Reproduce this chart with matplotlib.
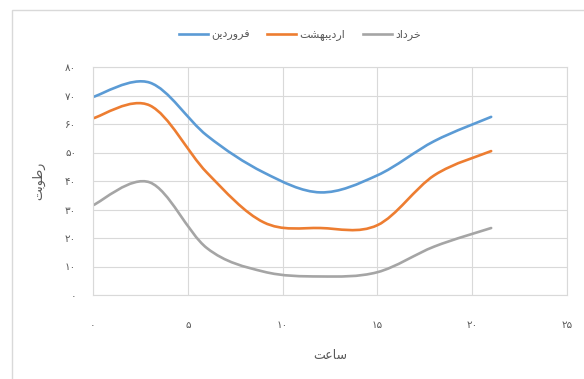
import matplotlib
matplotlib.use("Agg")
import matplotlib.pyplot as plt
from matplotlib.path import Path
from matplotlib.patches import PathPatch, Rectangle
from matplotlib.lines import Line2D

# humidity readings through the day
hours = [0, 3, 6, 9, 12, 15, 18, 21]
farvardin = [69.5, 74.5, 56, 43, 36, 42, 54, 62.5]
ordibehesht = [62, 66.5, 43, 25.5, 23.5, 24.5, 42, 50.5]
khordad = [31.5, 39.5, 16.5, 8.2, 6.5, 8, 17, 23.5]

series_names = ["فروردین", "اردیبهشت", "خرداد"]
x_title = "ساعت"
y_title = "رطوبت"
x_ticks = [0, 5, 10, 15, 20, 25]
y_ticks = [0, 10, 20, 30, 40, 50, 60, 70, 80]

colors = ["#5B9BD5", "#ED7D31", "#A5A5A5"]
text_color = "#595959"
grid_color = "#D9D9D9"

# isolated, final, initial, medial presentation forms
FORMS = {
    "ا": ("\ufe8d", "\ufe8e", None, None),
    "ب": ("\ufe8f", "\ufe90", "\ufe91", "\ufe92"),
    "ت": ("\ufe95", "\ufe96", "\ufe97", "\ufe98"),
    "خ": ("\ufea5", "\ufea6", "\ufea7", "\ufea8"),
    "د": ("\ufea9", "\ufeaa", None, None),
    "ر": ("\ufead", "\ufeae", None, None),
    "س": ("\ufeb1", "\ufeb2", "\ufeb3", "\ufeb4"),
    "ش": ("\ufeb5", "\ufeb6", "\ufeb7", "\ufeb8"),
    "ط": ("\ufec1", "\ufec2", "\ufec3", "\ufec4"),
    "ع": ("\ufec9", "\ufeca", "\ufecb", "\ufecc"),
    "ف": ("\ufed1", "\ufed2", "\ufed3", "\ufed4"),
    "ن": ("\ufee5", "\ufee6", "\ufee7", "\ufee8"),
    "ه": ("\ufee9", "\ufeea", "\ufeeb", "\ufeec"),
    "و": ("\ufeed", "\ufeee", None, None),
    "ی": ("\ufeef", "\ufef0", "\ufef3", "\ufef4"),
}


def shape(word):
    """Join Persian letters and put them in visual (right-to-left) order."""
    out = []
    for i, c in enumerate(word):
        if c not in FORMS:
            out.append(c)
            continue
        iso, fin, ini, med = FORMS[c]
        prev = word[i - 1] if i > 0 else None
        nxt = word[i + 1] if i + 1 < len(word) else None
        join_prev = prev in FORMS and FORMS[prev][2] is not None
        join_next = nxt in FORMS and ini is not None
        if join_prev and join_next:
            out.append(med)
        elif join_prev:
            out.append(fin)
        elif join_next:
            out.append(ini)
        else:
            out.append(iso)
    return "".join(reversed(out))


def fa_digits(n):
    return "".join("۰۱۲۳۴۵۶۷۸۹"[int(d)] for d in str(n))


def smooth_path(xs, ys):
    # cubic bezier through the points, catmull-rom style tangents
    pts = list(zip(xs, ys))
    n = len(pts)
    tang = []
    for i in range(n):
        a = pts[max(i - 1, 0)]
        b = pts[min(i + 1, n - 1)]
        tang.append(((b[0] - a[0]) / 2, (b[1] - a[1]) / 2))
    verts = [pts[0]]
    codes = [Path.MOVETO]
    for i in range(n - 1):
        p0, p1 = pts[i], pts[i + 1]
        c1 = (p0[0] + tang[i][0] / 3, p0[1] + tang[i][1] / 3)
        c2 = (p1[0] - tang[i + 1][0] / 3, p1[1] - tang[i + 1][1] / 3)
        verts += [c1, c2, p1]
        codes += [Path.CURVE4] * 3
    return Path(verts, codes)


plt.rcParams["font.family"] = ["DejaVu Sans"]

fig = plt.figure(figsize=(5.84, 3.79), dpi=100)
fig.patches.append(Rectangle((12 / 584, -0.1), 1.0, 1.1 - 10 / 379,
                             transform=fig.transFigure, fill=False,
                             edgecolor=grid_color, linewidth=1))

ax = fig.add_axes([93 / 584, 84 / 379, 474 / 584, 228 / 379])

handles = []
for ys, col, name in zip([farvardin, ordibehesht, khordad], colors, series_names):
    ax.add_patch(PathPatch(smooth_path(hours, ys), fill=False,
                           edgecolor=col, linewidth=1.9, capstyle="round"))
    handles.append(Line2D([], [], color=col, linewidth=1.9, label=shape(name)))

ax.set_xlim(0, 25)
ax.set_ylim(0, 80)
ax.set_xticks(x_ticks)
ax.set_xticklabels([fa_digits(v) for v in x_ticks])
ax.set_yticks(y_ticks)
ax.set_yticklabels([fa_digits(v) for v in y_ticks])
ax.tick_params(axis="x", length=0, pad=18, labelsize=7.5, labelcolor=text_color)
ax.tick_params(axis="y", length=0, pad=12, labelsize=7.5, labelcolor=text_color)
ax.grid(True, color=grid_color, linewidth=0.8)
ax.set_axisbelow(True)
for sp in ax.spines.values():
    sp.set_color(grid_color)
    sp.set_linewidth(0.8)

ax.set_xlabel(shape(x_title), fontsize=9, color=text_color, labelpad=14)
ax.set_ylabel(shape(y_title), fontsize=9, color=text_color, labelpad=14)

fig.legend(handles=handles, loc="center", bbox_to_anchor=(300 / 584, 1 - 35 / 379),
           ncol=3, frameon=False, fontsize=8, labelcolor=text_color,
           handlelength=2.6, handletextpad=0.3, columnspacing=1.6)

fig.savefig("out.png", dpi=100)
